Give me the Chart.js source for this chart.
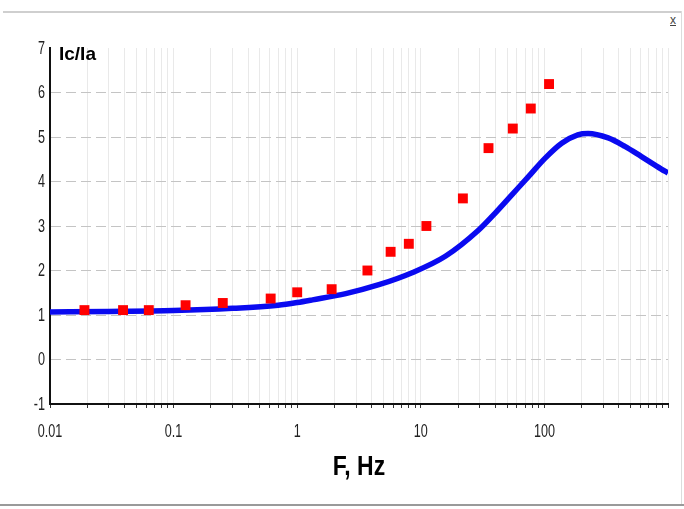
<!DOCTYPE html>
<html>
<head>
<meta charset="utf-8">
<script src="https://cdn.jsdelivr.net/npm/chart.js@4.4.1/dist/chart.umd.min.js"></script>
<style>
  html, body { margin: 0; padding: 0; background: #ffffff; }
  #wrap { position: relative; width: 684px; height: 509px; overflow: hidden; background: #fff; }
  #topline { position: absolute; left: 3px; right: 3px; top: 11px; height: 2px; background: #cfcfcf; }
  #rightline { position: absolute; right: 2px; top: 11px; bottom: 4px; width: 1px; background: #dcdcdc; }
  #bottomline { position: absolute; left: 0; right: 0; bottom: 3px; height: 2px; background: #9a9a9a; }
  #closeBtn { position: absolute; left: 670px; top: 13px; font: 12px 'Liberation Sans', Arial, sans-serif; color: #444; text-decoration: underline; }
  canvas { position: absolute; left: 0; top: 0; }
</style>
</head>
<body>
<div id="wrap">
  <div id="topline"></div>
  <div id="rightline"></div>
  <div id="bottomline"></div>
  <div id="closeBtn">x</div>
  <canvas id="c" width="684" height="509"></canvas>
</div>
<script>
// ---- Data ----
const measuredFreq = [0.019, 0.039, 0.063, 0.125, 0.25, 0.61, 1.0, 1.9, 3.7, 5.7, 8.0, 11.1, 21.9, 35.3, 55.5, 77.6, 109];
const measuredRatio = [1.11, 1.11, 1.11, 1.22, 1.27, 1.37, 1.51, 1.58, 2.0, 2.42, 2.60, 3.0, 3.62, 4.75, 5.19, 5.64, 6.19];

const modelFreq = [0.01, 0.03, 0.1, 0.3, 0.7, 1, 1.33, 2.47, 4.58, 8.5, 15.8, 29.4, 40, 54.5, 74.3, 101, 138, 186, 226, 328, 448, 610, 883, 1000];
const modelRatio = [1.07, 1.08, 1.10, 1.15, 1.22, 1.28, 1.34, 1.48, 1.68, 1.95, 2.32, 2.91, 3.29, 3.70, 4.11, 4.52, 4.86, 5.05, 5.08, 4.98, 4.79, 4.56, 4.28, 4.19];

const xDecades = [0.01, 0.1, 1, 10, 100];
const xDecadeLabels = ['0.01', '0.1', '1', '10', '100'];
const xMinorMultiples = [1, 2, 3, 4, 5, 6, 7, 8, 9];
const xMax = 1000;
const yTicks = [-1, 0, 1, 2, 3, 4, 5, 6, 7];
const yTickLabels = ['-1', '0', '1', '2', '3', '4', '5', '6', '7'];
const yMin = -1, yMax = 7;

const yTitle = 'Ic/Ia';
const xTitle = 'F, Hz';

// ---- Build ----
const measuredPts = measuredFreq.map((f, i) => ({ x: f, y: measuredRatio[i] }));
const modelPts = modelFreq.map((f, i) => ({ x: f, y: modelRatio[i] }));

const xTickValues = [];
xDecades.forEach(d => xMinorMultiples.forEach(m => xTickValues.push(+(d * m).toPrecision(6))));
xTickValues.push(xMax);

const REG = "'Liberation Sans', Arial, sans-serif";

function narrowText(ctx, text, x, y, font, sx, align) {
  ctx.save();
  ctx.font = font;
  ctx.textAlign = align;
  ctx.textBaseline = 'middle';
  ctx.translate(x, y);
  ctx.scale(sx, 1);
  ctx.fillText(text, 0, 0);
  ctx.restore();
}

const labelPlugin = {
  id: 'labels',
  afterDraw(chart) {
    const ctx = chart.ctx;
    const xs = chart.scales.x, ys = chart.scales.y;
    ctx.save();
    ctx.fillStyle = '#222';
    xDecades.forEach((d, i) => {
      narrowText(ctx, xDecadeLabels[i], xs.getPixelForValue(d), 432, '18px ' + REG, 0.7, 'center');
    });
    yTicks.forEach((v, i) => {
      narrowText(ctx, yTickLabels[i], 45, ys.getPixelForValue(v) + 1, '18px ' + REG, 0.7, 'right');
    });
    ctx.fillStyle = '#000';
    narrowText(ctx, xTitle, (chart.chartArea.left + chart.chartArea.right) / 2, 467, 'bold 28px ' + REG, 0.82, 'center');
    ctx.font = 'bold 19px ' + REG;
    ctx.textBaseline = 'top';
    ctx.textAlign = 'left';
    ctx.fillText(yTitle, chart.chartArea.left + 9, chart.chartArea.top - 3);
    ctx.restore();
  }
};

new Chart(document.getElementById('c'), {
  type: 'scatter',
  data: {
    datasets: [
      {
        label: 'measured',
        data: measuredPts,
        order: 0,
        showLine: false,
        pointStyle: 'rect',
        pointRadius: 7,
        pointHoverRadius: 7,
        backgroundColor: '#ff0000',
        borderColor: '#ff0000',
        borderWidth: 0
      },
      {
        label: 'model',
        data: modelPts,
        order: 1,
        showLine: true,
        borderColor: '#0a0af0',
        borderWidth: 5.5,
        pointRadius: 0,
        cubicInterpolationMode: 'monotone',
        fill: false
      }
    ]
  },
  options: {
    responsive: false,
    animation: false,
    devicePixelRatio: 1,
    layout: { padding: { left: 0, right: 16, top: 48, bottom: 0 } },
    plugins: { legend: { display: false }, tooltip: { enabled: false } },
    scales: {
      x: {
        type: 'logarithmic',
        min: 0.01,
        max: xMax,
        afterFit(scale) { scale.height = 105; },
        afterBuildTicks(scale) { scale.ticks = xTickValues.map(v => ({ value: v })); },
        ticks: { display: false, autoSkip: false, maxRotation: 0 },
        grid: {
          color: '#e9e9e9',
          lineWidth: 1,
          tickLength: 4,
          tickColor: '#333',
          drawTicks: true
        },
        border: { display: true, color: '#111', width: 2 }
      },
      y: {
        min: yMin,
        max: yMax,
        afterFit(scale) { scale.width = 50; },
        ticks: { display: false, stepSize: 1 },
        grid: {
          color(ctx) { return (ctx.tick && (ctx.tick.value === yMax || ctx.tick.value === yMin)) ? 'rgba(0,0,0,0)' : '#c4c4c4'; },
          lineWidth: 1,
          drawTicks: false
        },
        border: { display: true, color: '#111', width: 2, dash: [10, 5] }
      }
    }
  },
  plugins: [labelPlugin]
});
</script>
</body>
</html>
